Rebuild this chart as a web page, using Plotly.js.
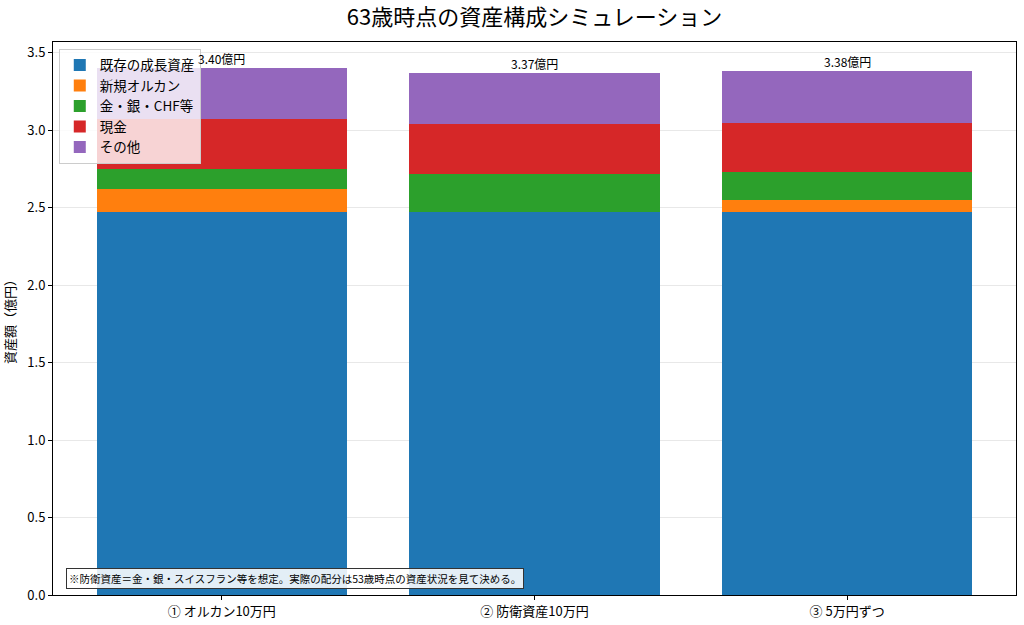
<!DOCTYPE html>
<html>
<head>
<meta charset="utf-8">
<script src="https://cdn.plot.ly/plotly-3.0.1.min.js"></script>
<style>
    html, body { margin: 0; padding: 0; background: #fff; }
    #chart { width: 1024px; height: 625px; }
</style>
</head>
<body>
<div id="chart"></div>
<script>
/* global Plotly */

// Scenarios on the x axis
const scenarios = ['① オルカン10万円', '② 防衛資産10万円', '③ 5万円ずつ'];

// Stack segments per scenario, in 億円
const existingGrowth = [2.475, 2.475, 2.475];
const newOrukan = [0.145, 0.0, 0.075];
const goldSilverChf = [0.13, 0.245, 0.18];
const cash = [0.32, 0.32, 0.32];
const others = [0.33, 0.33, 0.33];

const seriesNames = ['既存の成長資産', '新規オルカン', '金・銀・CHF等', '現金', 'その他'];
const seriesColors = ['#1f77b4', '#ff7f0e', '#2ca02c', '#d62728', '#9467bd'];

const yTicks = [0.0, 0.5, 1.0, 1.5, 2.0, 2.5, 3.0, 3.5];

const footNote = '※防衛資産＝金・銀・スイスフラン等を想定。実際の配分は53歳時点の資産状況を見て決める。';

const FONT = '"Noto Sans CJK JP", "Noto Sans", sans-serif';

function buildChart() {
    'use strict';

    const segments = [existingGrowth, newOrukan, goldSilverChf, cash, others];
    const xIdx = scenarios.map((s, i) => i);

    // One bar trace per segment, stacked
    let traces = segments.map((vals, k) => ({
        type: 'bar',
        x: xIdx,
        y: vals,
        name: seriesNames[k],
        width: 0.8,
        marker: {color: seriesColors[k], line: {width: 0}},
        hoverinfo: 'name+y'
    }));

    // Totals on top of each bar
    let totals = xIdx.map(i => segments.reduce((acc, s) => acc + s[i], 0));
    let notes = xIdx.map(i => ({
        x: i,
        y: totals[i],
        xref: 'x',
        yref: 'y',
        text: totals[i].toFixed(2) + '億円',
        showarrow: false,
        yanchor: 'bottom',
        yshift: -1,
        font: {family: FONT, size: 12, color: '#000'}
    }));

    // Footnote box, bottom left of the axes
    notes.push({
        xref: 'paper',
        yref: 'paper',
        x: 0.014,
        y: 0.011,
        xanchor: 'left',
        yanchor: 'bottom',
        text: footNote,
        showarrow: false,
        align: 'left',
        bgcolor: 'rgba(255,255,255,0.88)',
        bordercolor: '#333',
        borderwidth: 1,
        borderpad: 2,
        font: {family: FONT, size: 10.5, color: '#000'}
    });

    let layout = {
        width: 1024,
        height: 625,
        margin: {l: 53, r: 8, t: 42, b: 30, pad: 0},
        paper_bgcolor: '#fff',
        plot_bgcolor: '#fff',
        font: {family: FONT, size: 13, color: '#000'},
        barmode: 'stack',
        bargap: 0,

        title: {
            text: '63歳時点の資産構成シミュレーション',
            font: {family: FONT, size: 22, color: '#000'},
            x: 0.522,
            xanchor: 'center',
            y: 0.972,
            yanchor: 'middle'
        },

        xaxis: {
            range: [-0.54, 2.54],
            tickmode: 'array',
            tickvals: xIdx,
            ticktext: scenarios,
            ticks: 'outside',
            ticklen: 4,
            tickcolor: '#000',
            showgrid: false,
            zeroline: false,
            showline: true,
            mirror: true,
            linecolor: '#000',
            linewidth: 1,
            tickfont: {family: FONT, size: 13}
        },

        yaxis: {
            range: [0, 3.57],
            tickmode: 'array',
            tickvals: yTicks,
            ticktext: yTicks.map(v => v.toFixed(1)),
            ticks: 'outside',
            ticklen: 4,
            tickcolor: '#000',
            showgrid: true,
            gridcolor: '#e8e8e8',
            gridwidth: 1,
            zeroline: false,
            showline: true,
            mirror: true,
            linecolor: '#000',
            linewidth: 1,
            tickfont: {family: FONT, size: 13},
            title: {
                text: '資産額（億円）',
                font: {family: FONT, size: 13},
                standoff: 8
            }
        },

        showlegend: true,
        legend: {
            x: 0.006,
            y: 0.988,
            xanchor: 'left',
            yanchor: 'top',
            traceorder: 'normal',
            bgcolor: 'rgba(255,255,255,0.8)',
            bordercolor: '#cccccc',
            borderwidth: 1,
            font: {family: FONT, size: 13.5},
            tracegroupgap: 0,
            itemwidth: 30
        },

        annotations: notes
    };

    Plotly.newPlot('chart', traces, layout, {displayModeBar: false, staticPlot: true});
}

buildChart();
</script>
</body>
</html>
